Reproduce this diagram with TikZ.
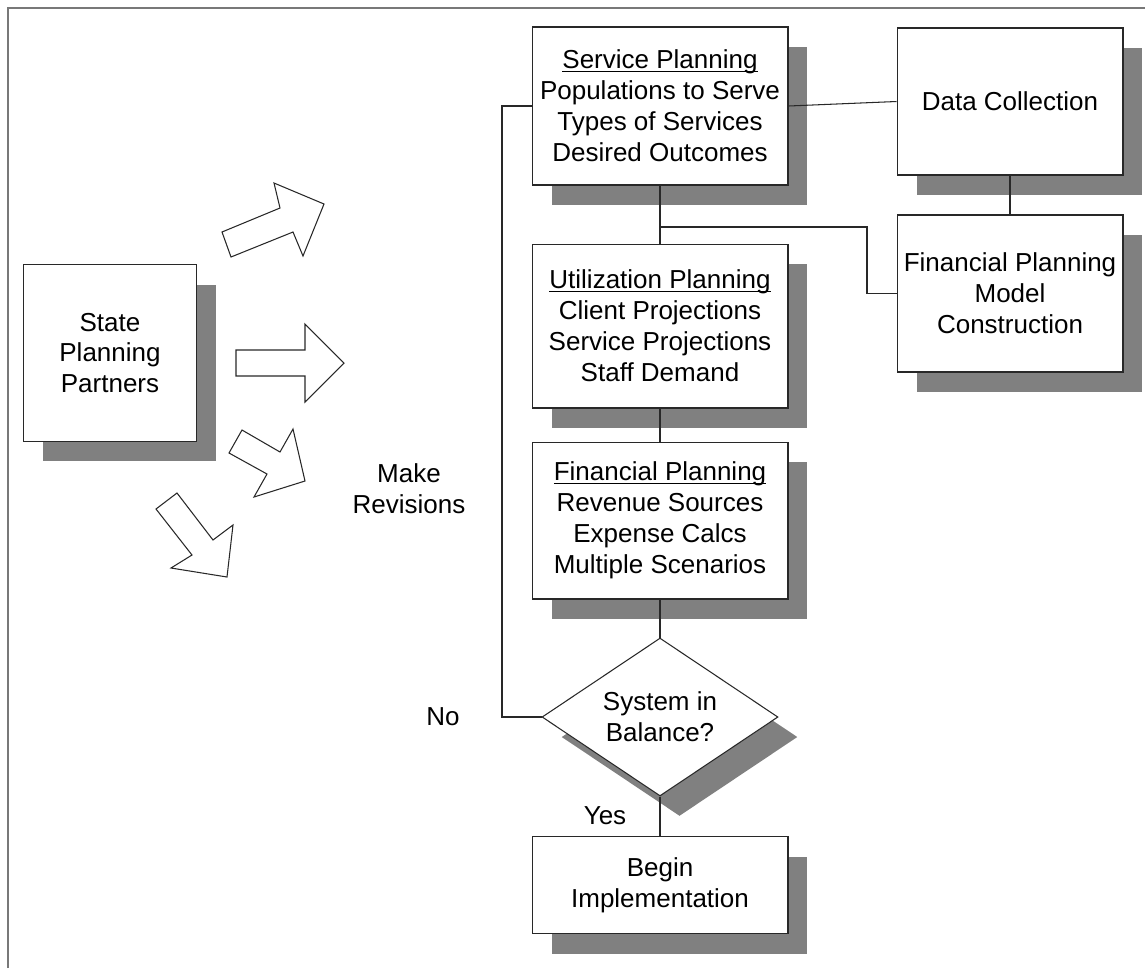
\documentclass[tikz,border=0pt]{standalone}
\usepackage{fontspec}
\setmainfont{Liberation Sans}
\usepackage{tikz}
\usetikzlibrary{shapes.geometric, shadows}
\definecolor{shadowgray}{RGB}{128, 128, 128}
\definecolor{framegray}{RGB}{120, 120, 120}
\definecolor{linegray}{RGB}{40, 40, 40}
\newcommand{\headline}[1]{\underline{\smash{#1}}\vphantom{#1}}

\begin{document}
\begin{tikzpicture}[
        x=0.02cm,
        y=-0.02cm,
        font=\fontsize{14.8pt}{17.6pt}\selectfont,
        planbox/.style={
            draw=linegray,
            line width=0.6pt,
            fill=white,
            align=center,
            inner sep=2pt,
            drop shadow={shadow xshift=0.39cm, shadow yshift=-0.4cm,
                fill=shadowgray, opacity=1},
        },
        decision/.style={
            planbox,
            diamond,
            aspect=1.5,
            inner sep=0pt,
            minimum width=4.72cm,
            minimum height=3.16cm,
        },
        link/.style={draw=linegray, line width=0.6pt},
        blockarrow/.style={draw=linegray, line width=0.6pt, fill=white},
    ]
    \useasboundingbox (0,0) rectangle (1145,968);
    \draw[framegray, line width=1.2pt] (8,968) -- (8,8) -- (1145,8);

    \node[planbox, minimum width=3.46cm, minimum height=3.54cm] (spp) at (110,353)
        {State\\Planning\\Partners};

    \draw[blockarrow] (231,257) -- (222,232) -- (280,208) -- (274,183)
        -- (324,204) -- (303,256) -- (293,232) -- cycle;
    \draw[blockarrow] (236,350) -- (305,350) -- (305,324) -- (344,363)
        -- (305,402) -- (305,376) -- (236,376) -- cycle;
    \draw[blockarrow] (242,430) -- (280,452) -- (293,429) -- (305,481)
        -- (254,497) -- (267,474) -- (229,453) -- cycle;
    \draw[blockarrow] (177,493) -- (213,540) -- (233,525) -- (227,577)
        -- (171,568) -- (192,555) -- (156,509) -- cycle;

    \node[planbox, minimum width=5.12cm, minimum height=3.16cm] (sp) at (660,106)
        {\headline{Service Planning}\\Populations to Serve\\Types of Services\\Desired Outcomes};
    \node[planbox, minimum width=4.52cm, minimum height=2.94cm] (dc) at (1010,101.5)
        {Data Collection};
    \node[planbox, minimum width=4.52cm, minimum height=3.14cm] (fpmc) at (1010,293.5)
        {Financial Planning\\Model\\Construction};
    \node[planbox, minimum width=5.12cm, minimum height=3.28cm] (up) at (660,326)
        {\headline{Utilization Planning}\\Client Projections\\Service Projections\\Staff Demand};
    \node[planbox, minimum width=5.12cm, minimum height=3.14cm] (fp) at (660,520.5)
        {\headline{Financial Planning}\\Revenue Sources\\Expense Calcs\\Multiple Scenarios};
    \node[decision] (bal) at (660,717) {System in\\Balance?};
    \node[planbox, minimum width=5.12cm, minimum height=1.94cm] (bi) at (660,885)
        {Begin\\Implementation};

    \node[align=center] (revise) at (409,489) {Make\\Revisions};
    \node (no) at (443,717) {No};
    \node (yes) at (605,816) {Yes};

    \coordinate (loop) at (502,717);
    \coordinate (split) at (660,227);
    \coordinate (elbow) at (867,227);

    \draw[link] (sp.west) -| (loop) -- (bal.west);
    \draw[link] (sp.east) -- (dc.west);
    \draw[link] (sp.south) -- (up.north);
    \draw[link] (split) -- (elbow) |- (fpmc.west);
    \draw[link] (dc.south) -- (fpmc.north);
    \draw[link] (up.south) -- (fp.north);
    \draw[link] (fp.south) -- (bal.north);
    \draw[link] (bal.south) -- (bi.north);
\end{tikzpicture}
\end{document}
